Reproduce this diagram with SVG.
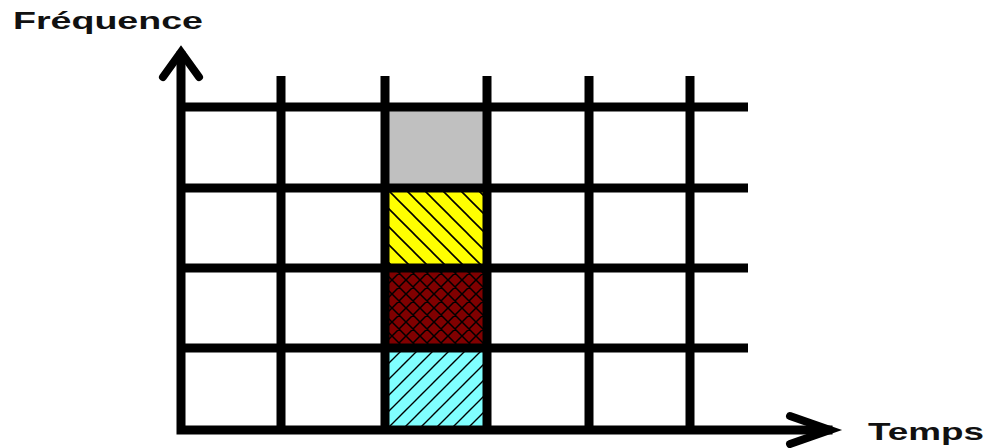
<svg xmlns="http://www.w3.org/2000/svg" width="990" height="448" viewBox="0 0 990 448">
<style>
.grid{stroke:#000;stroke-width:9;fill:none;stroke-linecap:butt}
.axis{stroke:#000;stroke-width:9;fill:none;stroke-linecap:square;stroke-linejoin:miter}
.head{stroke:#000;stroke-width:8;fill:none;stroke-linecap:round;stroke-linejoin:miter}
.lbl{font-family:"Liberation Sans",Arial,sans-serif;font-weight:bold;font-size:24px;fill:#111}
</style>
<defs>
<pattern id="hatchBack" width="18" height="18" patternUnits="userSpaceOnUse">
<path d="M-4.5,-4.5 L22.5,22.5 M-4.5,13.5 L4.5,22.5 M13.5,-4.5 L22.5,4.5" stroke="#000" stroke-width="1.6"/>
</pattern>
<pattern id="hatchFwd" width="16" height="16" patternUnits="userSpaceOnUse">
<path d="M-4,20 L20,-4 M-4,4 L4,-4 M12,20 L20,12" stroke="#000" stroke-width="1.4"/>
</pattern>
<pattern id="cross" width="14" height="14" patternUnits="userSpaceOnUse">
<path d="M-3.5,-3.5 L17.5,17.5 M-3.5,17.5 L17.5,-3.5 M-3.5,10.5 L3.5,17.5 M10.5,-3.5 L17.5,3.5 M-3.5,3.5 L3.5,-3.5 M10.5,17.5 L17.5,10.5" stroke="#000" stroke-width="1.5"/>
</pattern>
</defs>
<rect width="990" height="448" fill="#fff"/>
<g id="cell-gray"><rect x="385" y="107" width="102" height="81" fill="#c0c0c0"/></g>
<g id="cell-yellow"><rect x="385" y="188" width="102" height="80" fill="#ffff00"/><rect x="385" y="188" width="102" height="80" fill="url(#hatchBack)"/></g>
<g id="cell-red"><rect x="385" y="268" width="102" height="80" fill="#800000"/><rect x="385" y="268" width="102" height="80" fill="url(#cross)"/></g>
<g id="cell-cyan"><rect x="385" y="348" width="102" height="82" fill="#80ffff"/><rect x="385" y="348" width="102" height="82" fill="url(#hatchFwd)"/></g>
<g id="connectors">
<path class="grid" d="M181,107 H748 M181,188 H748 M181,268 H748 M181,348 H748"/>
<path class="grid" d="M281,76 V430 M385,76 V430 M487,76 V430 M589,76 V430 M690,76 V430"/>
<path class="axis" d="M181,56 V430 H828"/>
<path class="head" d="M163,77 L181,52 L199,77"/>
<path class="head" d="M790,416 L830,430 L790,444"/>
</g>
<g id="label-frequence"><text class="lbl" x="13" y="29" textLength="190" lengthAdjust="spacingAndGlyphs">Fréquence</text></g>
<g id="label-temps"><text class="lbl" x="868" y="440" textLength="116" lengthAdjust="spacingAndGlyphs">Temps</text></g>
</svg>
